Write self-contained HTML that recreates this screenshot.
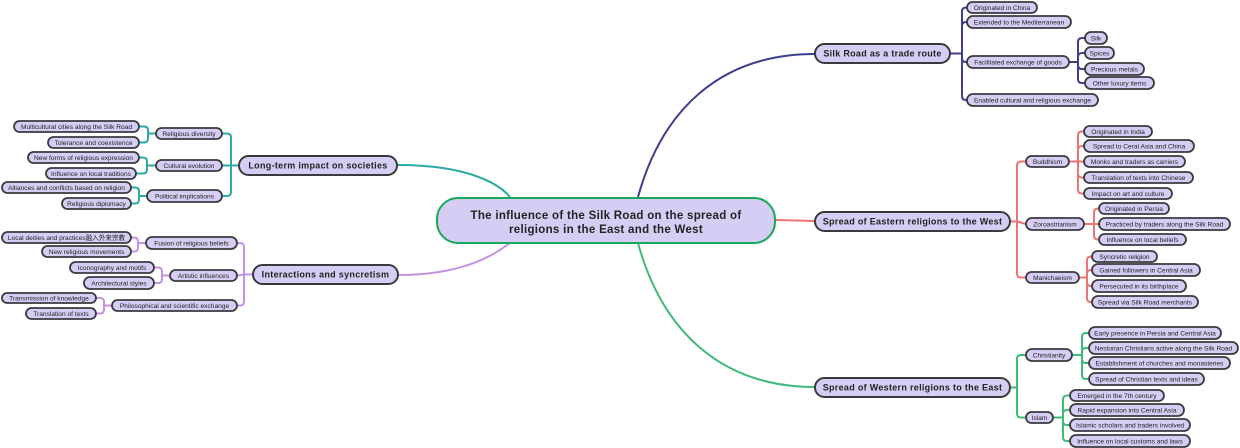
<!DOCTYPE html>
<html><head><meta charset="utf-8"><style>
html,body{margin:0;padding:0;background:#fff;width:1240px;height:448px;overflow:hidden}
svg{display:block}
text{font-family:"Liberation Sans","Noto Sans CJK SC",sans-serif;fill:#222}
</style></head><body>
<svg id="s" width="1240" height="448" xmlns="http://www.w3.org/2000/svg">
<g fill="none" stroke-width="2">
<path d="M638,197 C662,110 720,54 815,54" stroke="#3d3f8c"/>
<path d="M776,220 L815,221" stroke="#f07272"/>
<path d="M638,243 C662,330 720,387 815,387" stroke="#3dba78"/>
<path d="M398,165 C470,165 500,185 510,197" stroke="#2aaaa2"/>
<path d="M398,275 C470,275 500,250 510,243" stroke="#c392e3"/>
</g>
<g id="lines" fill="none" stroke-width="2"></g>
<g id="nodes"></g>
<rect x="437" y="198" width="338" height="45" rx="21" fill="#d6cdf4" stroke="#17a85a" stroke-width="2"/>
<text x="606" y="219" text-anchor="middle" font-size="11.5" font-weight="bold" letter-spacing="0.3">The influence of the Silk Road on the spread of</text>
<text x="606" y="233" text-anchor="middle" font-size="11.5" font-weight="bold" letter-spacing="0.3">religions in the East and the West</text>
</svg>
<script>
var NS="http://www.w3.org/2000/svg",L=document.getElementById('lines'),N=document.getElementById('nodes');
function node(x1,y1,x2,y2,t,big){var r=document.createElementNS(NS,'rect');r.setAttribute('x',x1);r.setAttribute('y',y1);r.setAttribute('width',x2-x1);r.setAttribute('height',y2-y1);r.setAttribute('rx',(y2-y1)/2);r.setAttribute('fill','#d6cdf4');r.setAttribute('stroke','#3a3a3e');r.setAttribute('stroke-width',big?2:1.8);N.appendChild(r);
var tx=document.createElementNS(NS,'text');tx.setAttribute('x',(x1+x2)/2);tx.setAttribute('y',(y1+y2)/2+(big?3.2:2.4));tx.setAttribute('text-anchor','middle');tx.setAttribute('font-size',big?9:6.6);if(big){tx.setAttribute('font-weight','bold');tx.setAttribute('letter-spacing','0.3');}tx.textContent=t;N.appendChild(tx);}
function path(d,c){var p=document.createElementNS(NS,'path');p.setAttribute('d',d);p.setAttribute('stroke',c);L.appendChild(p);}
// side: 1 right, -1 left. parent [x1,y1,x2,y2], lx, kids
function group(par,lx,kids,c,side,big){node(par[0],par[1],par[2],par[3],par[4],big);var py=(par[1]+par[3])/2,px=side>0?par[2]:par[0];
path('M'+px+','+py+' L'+lx+','+py,c);
kids.forEach(function(k){var cy=(k[1]+k[3])/2,cx=side>0?k[0]:k[2],r=4,dy=cy>py?1:-1;
if(Math.abs(cy-py)<r+1){path('M'+lx+','+py+' L'+cx+','+cy,c);}else
path('M'+lx+','+py+' L'+lx+','+(cy-dy*r)+' Q'+lx+','+cy+' '+(lx+side*r)+','+cy+' L'+cx+','+cy,c);});}
function leaves(ks){ks.forEach(function(k){node(k[0],k[1],k[2],k[3],k[4]);});}
var B='#3d3f8c',R='#f07272',G='#3dba78',T='#2aaaa2',P='#c392e3';
// Silk road
var sr=[[967,2,1037,13,'Originated in China'],[967,16,1071,28,'Extended to the Mediterranean'],[967,56,1069,68,'Facilitated exchange of goods'],[967,94,1098,106,'Enabled cultural and religious exchange']];
group([815,44,950,63,'Silk Road as a trade route'],962,sr,B,1,true);
var gd=[[1085,32,1107,44,'Silk'],[1085,47,1114,59,'Spices'],[1085,63,1144,75,'Precious metals'],[1085,77,1154,89,'Other luxury items']];
group(sr[2],1078,gd,B,1);leaves([sr[0],sr[1],sr[3]]);leaves(gd);
// Eastern
var er=[[1026,156,1069,167,'Buddhism'],[1026,218,1084,230,'Zoroastrianism'],[1026,272,1079,283,'Manichaeism']];
group([815,212,1010,231,'Spread of Eastern religions to the West'],1017,er,R,1,true);
var bu=[[1084,126,1152,137,'Originated in India'],[1084,140,1194,152,'Spread to Ceral Asia and China'],[1084,156,1185,167,'Monks and traders as carriers'],[1084,172,1193,183,'Translation of texts into Chinese'],[1084,188,1172,199,'Impact on art and culture']];
var zo=[[1099,203,1169,214,'Originated in Persia'],[1099,218,1230,230,'Practiced by traders along the Silk Road'],[1099,234,1186,245,'Influence on local beliefs']];
var ma=[[1092,251,1157,262,'Syncretic religion'],[1092,264,1200,276,'Gained followers in Central Asia'],[1092,280,1186,292,'Persecuted in its birthplace'],[1092,296,1198,308,'Spread via Silk Road merchants']];
group(er[0],1078,bu,R,1);group(er[1],1094,zo,R,1);group(er[2],1087,ma,R,1);leaves(bu);leaves(zo);leaves(ma);
// Western
var wr=[[1026,349,1072,361,'Christianity'],[1026,412,1053,423,'Islam']];
group([815,378,1010,397,'Spread of Western religions to the East'],1017,wr,G,1,true);
var ch=[[1089,327,1221,339,'Early presence in Persia and Central Asia'],[1089,342,1238,354,'Nestorian Christians active along the Silk Road'],[1089,357,1230,369,'Establishment of churches and monasteries'],[1089,373,1204,385,'Spread of Christian texts and ideas']];
var is=[[1070,390,1164,401,'Emerged in the 7th century'],[1070,404,1184,416,'Rapid expansion into Central Asia'],[1070,419,1190,431,'Islamic scholars and traders involved'],[1070,435,1190,447,'Influence on local customs and laws']];
group(wr[0],1082,ch,G,1);group(wr[1],1063,is,G,1);leaves(ch);leaves(is);
// Long-term
var lt=[[156,128,222,139,'Religious diversity'],[156,160,222,171,'Cultural evolution'],[147,190,222,202,'Political implications']];
group([239,156,397,175,'Long-term impact on societies'],231,lt,T,-1,true);
var rd=[[14,121,139,132,'Multicultural cities along the Silk Road'],[48,137,139,148,'Tolerance and coexistence']];
var ce=[[28,152,139,163,'New forms of religious expression'],[46,168,136,179,'Influence on local traditions']];
var pi=[[2,182,131,193,'Alliances and conflicts based on religion'],[62,198,131,209,'Religious diplomacy']];
group(lt[0],148,rd,T,-1);group(lt[1],147,ce,T,-1);group(lt[2],139,pi,T,-1);leaves(rd);leaves(ce);leaves(pi);
// Interactions
var it=[[146,237,237,249,'Fusion of religious beliefs'],[170,270,237,281,'Artistic influences'],[112,300,237,311,'Philosophical and scientific exchange']];
group([253,265,398,284,'Interactions and syncretism'],244,it,P,-1,true);
var fu=[[2,232,131,243,'Local deities and practices融入外来宗教'],[42,246,131,257,'New religious movements']];
var ar=[[70,262,154,273,'Iconography and motifs'],[84,277,154,289,'Architectural styles']];
var ph=[[2,293,96,303,'Transmission of knowledge'],[26,308,96,319,'Translation of texts']];
group(it[0],138,fu,P,-1);group(it[1],162,ar,P,-1);group(it[2],104,ph,P,-1);leaves(fu);leaves(ar);leaves(ph);
</script>
</body></html>
